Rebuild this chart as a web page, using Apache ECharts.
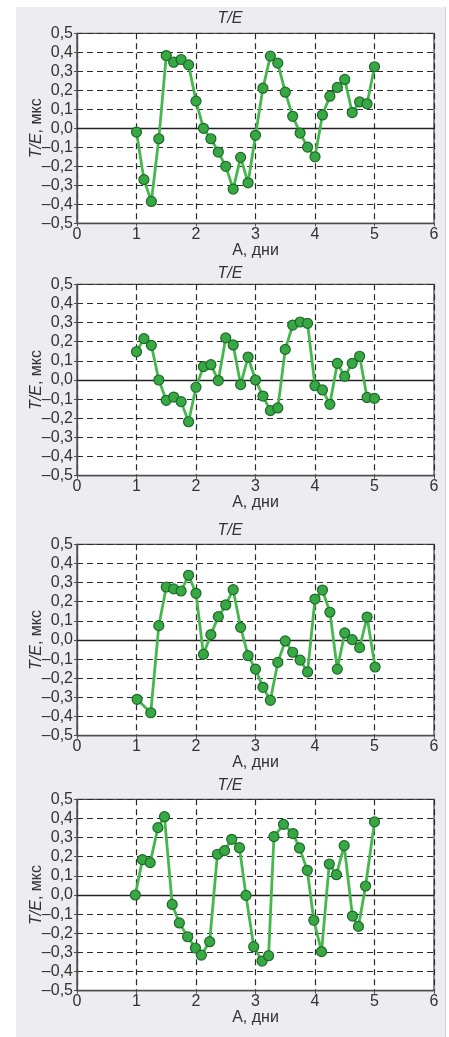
<!DOCTYPE html>
<html><head><meta charset="utf-8">
<script src="https://cdn.jsdelivr.net/npm/echarts@6/dist/echarts.min.js"></script>
<style>
html,body{margin:0;padding:0;background:#fff;width:449px;height:1037px;overflow:hidden}
#bg{position:absolute;left:16px;top:7px;width:429px;height:1040px;background:#ececf1;border-right:1px solid #d4d4da}
#c{position:absolute;left:0;top:0;width:449px;height:1037px}
</style></head><body>
<div id="bg"></div><div id="c"></div>
<script>
// Panel data (x in days, y in T/E µs)
const x1 = [1,1.125,1.25,1.375,1.5,1.625,1.75,1.875,2,2.125,2.25,2.375,2.5,2.625,2.75,2.875,3,3.125,3.25,3.375,3.5,3.625,3.75,3.875,4,4.125,4.25,4.375,4.5,4.625,4.75,4.875,5];
const y1 = [-0.02,-0.27,-0.385,-0.055,0.383,0.348,0.362,0.334,0.143,0.0,-0.055,-0.125,-0.2,-0.32,-0.153,-0.287,-0.037,0.211,0.38,0.343,0.19,0.063,-0.025,-0.099,-0.15,0.07,0.169,0.215,0.257,0.083,0.139,0.129,0.324];
const x2 = [1,1.125,1.25,1.375,1.5,1.625,1.75,1.875,2,2.125,2.25,2.375,2.5,2.625,2.75,2.875,3,3.125,3.25,3.375,3.5,3.625,3.75,3.875,4,4.125,4.25,4.375,4.5,4.625,4.75,4.875,5];
const y2 = [0.148,0.216,0.181,0.0,-0.106,-0.089,-0.113,-0.218,-0.038,0.07,0.08,-0.003,0.22,0.183,-0.024,0.12,0.0,-0.084,-0.16,-0.146,0.16,0.287,0.303,0.296,-0.03,-0.052,-0.127,0.087,0.019,0.087,0.124,-0.091,-0.096];
const x3 = [1.01,1.24,1.375,1.5,1.625,1.75,1.875,2,2.125,2.25,2.375,2.5,2.625,2.75,2.875,3,3.125,3.25,3.375,3.5,3.625,3.75,3.875,4,4.125,4.25,4.375,4.5,4.625,4.75,4.875,5.01];
const y3 = [-0.31,-0.38,0.075,0.277,0.267,0.256,0.338,0.244,-0.075,0.028,0.122,0.183,0.263,0.066,-0.082,-0.152,-0.247,-0.315,-0.117,-0.005,-0.064,-0.105,-0.167,0.214,0.261,0.145,-0.152,0.037,0.002,-0.04,0.12,-0.141];
const x4 = [0.98,1.1,1.23,1.36,1.47,1.6,1.72,1.86,1.99,2.09,2.23,2.36,2.48,2.6,2.73,2.84,2.97,3.11,3.22,3.31,3.47,3.63,3.74,3.87,3.98,4.11,4.24,4.36,4.49,4.63,4.73,4.85,5.0];
const y4 = [0.0,0.185,0.169,0.352,0.409,-0.049,-0.146,-0.218,-0.277,-0.314,-0.244,0.213,0.232,0.291,0.247,-0.002,-0.27,-0.345,-0.317,0.305,0.369,0.321,0.246,0.129,-0.132,-0.296,0.162,0.106,0.258,-0.11,-0.164,0.047,0.382];
const xTicks = [0,1,2,3,4,5,6];
const panelTitle = 'T/E';
const xName = 'А, дни';
const yNameItalic = 'T/E';
const yNameRest = ', мкс';

const panels = [[x1,y1],[x2,y2],[x3,y3],[x4,y4]];
const gridTops = [33.3, 284.3, 544.3, 799.3];
const gridH = [190, 191.4, 191.4, 191.4];
const FONT = 'Liberation Sans';
const FS = 16;
const txt = '#333';

const fmtY = v => {
  let s = Math.abs(v) < 1e-9 ? '0,0' : v.toFixed(1).replace('.', ',');
  return s.replace('-', '\u2013');
};

const grids = [], xAxes = [], yAxes = [], series = [], graphics = [];
panels.forEach((p, i) => {
  grids.push({left: 77, width: 357, top: gridTops[i], height: gridH[i], show: true,
    backgroundColor: '#fff', borderColor: '#4d4d4d', borderWidth: 1.3});
  xAxes.push({type: 'value', gridIndex: i, min: 0, max: 6, interval: 1,
    name: xName, nameLocation: 'middle', nameGap: 19, nameMoveOverlap: false,
    nameTextStyle: {fontFamily: FONT, fontSize: FS, color: txt},
    axisLine: {show: true, onZero: false, lineStyle: {color: '#4d4d4d', width: 1.3}},
    axisTick: {show: true, length: 3, lineStyle: {color: '#4d4d4d'}},
    axisLabel: {fontFamily: FONT, fontSize: FS, color: txt, margin: 3,
      formatter: v => xTicks.includes(v) ? String(v) : ''},
    splitLine: {show: true, lineStyle: {color: '#2a2a2a', type: [6, 4], width: 1.2}}});
  yAxes.push({type: 'value', gridIndex: i, min: -0.5, max: 0.5, interval: 0.1,
    name: '{i|' + yNameItalic + '}' + yNameRest, nameLocation: 'middle', nameGap: 32,
    nameMoveOverlap: false,
    nameTextStyle: {fontFamily: FONT, fontSize: FS, color: txt,
      rich: {i: {fontStyle: 'italic', fontFamily: FONT, fontSize: FS, color: txt}}},
    axisLine: {show: true, lineStyle: {color: '#4d4d4d', width: 1.3}},
    axisTick: {show: true, length: 3, lineStyle: {color: '#4d4d4d'}},
    axisLabel: {fontFamily: FONT, fontSize: FS, color: txt, margin: 4, formatter: fmtY},
    splitLine: {show: true, lineStyle: {color: '#2a2a2a', type: [6, 4], width: 1.2}}});
  series.push({type: 'line', xAxisIndex: i, yAxisIndex: i,
    data: p[0].map((x, k) => [x, p[1][k]]),
    symbol: 'circle', symbolSize: 10,
    lineStyle: {color: '#45b74d', width: 2.8},
    itemStyle: {color: '#38a845', borderColor: '#1c6a28', borderWidth: 1.2},
    markLine: {silent: true, symbol: 'none', label: {show: false},
      lineStyle: {color: '#222', type: 'solid', width: 1.3},
      data: [{yAxis: 0}]},
    z: 5});
  const cy = [19, 274, 531, 786][i];
  graphics.push({type: 'text', x: 230, y: cy,
    style: {text: panelTitle, align: 'center', verticalAlign: 'middle',
      font: 'italic ' + FS + 'px "' + FONT + '"', fill: txt}});
});

const chart = echarts.init(document.getElementById('c'), null, {renderer: 'canvas'});
chart.setOption({
  animation: false,
  backgroundColor: 'transparent',
  grid: grids, xAxis: xAxes, yAxis: yAxes, series: series, graphic: graphics
});
</script></body></html>
